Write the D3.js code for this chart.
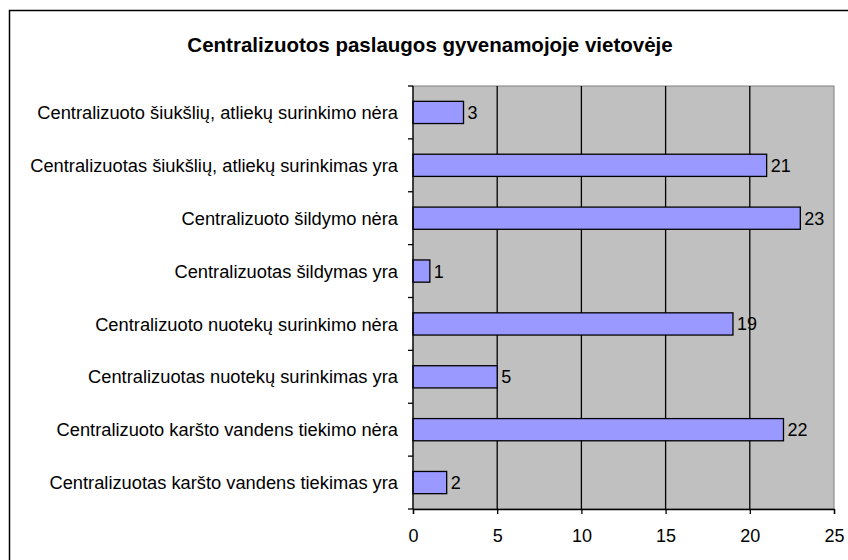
<!DOCTYPE html>
<html>
<head>
<meta charset="utf-8">
<script src="https://cdn.jsdelivr.net/npm/d3@7"></script>
<style>
  body { margin: 0; background: #fff; }
  text { font-family: "Liberation Sans", Arial, sans-serif; fill: #000; }
</style>
</head>
<body>
<script>
// categories top to bottom
const categories = [
    "Centralizuoto šiukšlių, atliekų surinkimo nėra",
    "Centralizuotas šiukšlių, atliekų surinkimas yra",
    "Centralizuoto šildymo nėra",
    "Centralizuotas šildymas yra",
    "Centralizuoto nuotekų surinkimo nėra",
    "Centralizuotas nuotekų surinkimas yra",
    "Centralizuoto karšto vandens tiekimo nėra",
    "Centralizuotas karšto vandens tiekimas yra"
];
const values = [3, 21, 23, 1, 19, 5, 22, 2];
const xTicks = [0, 5, 10, 15, 20, 25];
const title = "Centralizuotos paslaugos gyvenamojoje vietovėje";

const W = 848, H = 560;
const svg = d3.select("body").append("svg")
    .attr("width", W)
    .attr("height", H);

// outer chart border (runs off the right and bottom edges)
svg.append("rect")
    .attr("x", 9.5).attr("y", 10.5)
    .attr("width", W + 10).attr("height", H + 10)
    .attr("fill", "#fff")
    .attr("stroke", "#000")
    .attr("stroke-width", 1.5);

svg.append("text")
    .attr("x", 430).attr("y", 52)
    .attr("text-anchor", "middle")
    .attr("font-size", 20.5)
    .attr("font-weight", "bold")
    .text(title);

const pLeft = 413, pRight = 834, pTop = 86, pBottom = 509;

const x = d3.scaleLinear().domain([0, 25]).range([pLeft, pRight]);
const y = d3.scaleBand().domain(categories).range([pTop, pBottom]).paddingInner(0.58).paddingOuter(0.29);

// plot area
svg.append("rect")
    .attr("x", pLeft).attr("y", pTop)
    .attr("width", pRight - pLeft).attr("height", pBottom - pTop)
    .attr("fill", "#c0c0c0")
    .attr("stroke", "#808080")
    .attr("stroke-width", 1);

// gridlines
svg.selectAll(".grid").data(xTicks.slice(1, -1)).enter().append("line")
    .attr("x1", d => x(d)).attr("x2", d => x(d))
    .attr("y1", pTop).attr("y2", pBottom)
    .attr("stroke", "#000").attr("stroke-width", 1.3);

// bars
svg.selectAll(".bar").data(values).enter().append("rect")
    .attr("x", x(0))
    .attr("y", (d, i) => y(categories[i]))
    .attr("width", d => x(d) - x(0))
    .attr("height", y.bandwidth())
    .attr("fill", "#9999ff")
    .attr("stroke", "#000")
    .attr("stroke-width", 1.3);

// value labels
svg.selectAll(".val").data(values).enter().append("text")
    .attr("x", d => x(d) + 4)
    .attr("y", (d, i) => y(categories[i]) + y.bandwidth() / 2)
    .attr("dy", "0.36em")
    .attr("font-size", 18)
    .text(d => d);

// x axis
const xAxis = svg.append("g")
    .attr("transform", `translate(0,${pBottom})`)
    .call(d3.axisBottom(x).tickValues(xTicks).tickSize(5).tickPadding(15));
xAxis.select(".domain").attr("stroke", "#000").attr("stroke-width", 1.3);
xAxis.selectAll(".tick line").attr("stroke", "#000").attr("stroke-width", 1.3);
xAxis.selectAll("text").attr("font-size", 18).attr("font-family", "Liberation Sans, Arial, sans-serif");

// y axis: ticks at band boundaries
const bandStep = (pBottom - pTop) / categories.length;
svg.append("line")
    .attr("x1", pLeft).attr("x2", pLeft)
    .attr("y1", pTop).attr("y2", pBottom)
    .attr("stroke", "#000").attr("stroke-width", 1.3);
svg.selectAll(".ytick").data(d3.range(categories.length + 1)).enter().append("line")
    .attr("x1", pLeft - 5).attr("x2", pLeft)
    .attr("y1", d => pTop + d * bandStep).attr("y2", d => pTop + d * bandStep)
    .attr("stroke", "#000").attr("stroke-width", 1.3);

svg.selectAll(".cat").data(categories).enter().append("text")
    .attr("x", pLeft - 15)
    .attr("y", d => y(d) + y.bandwidth() / 2)
    .attr("dy", "0.36em")
    .attr("text-anchor", "end")
    .attr("font-size", 18.3)
    .text(d => d);
</script>
</body>
</html>
